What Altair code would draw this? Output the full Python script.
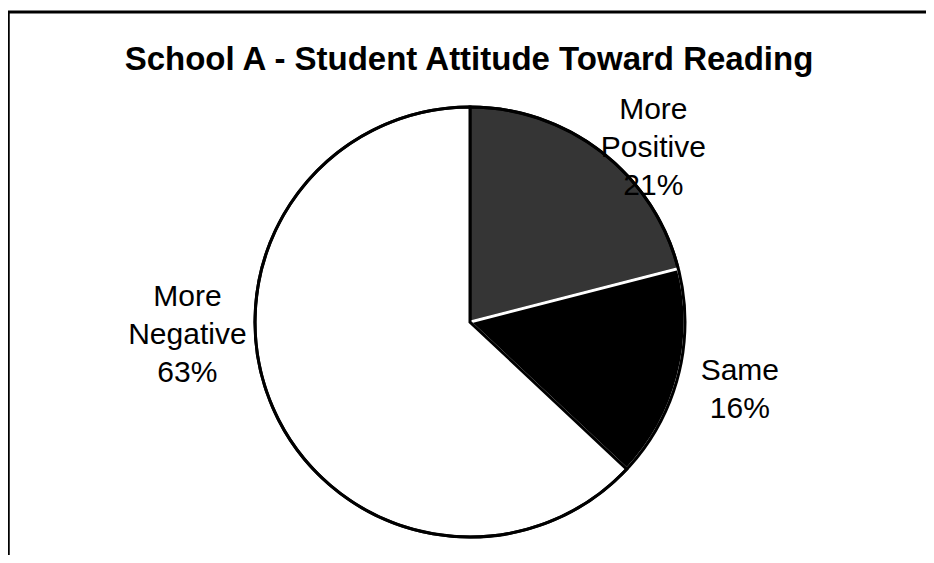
import math
import altair as alt
import pandas as pd

# ---- data ----
categories = ["More Positive", "Same", "More Negative"]
label_words = [["More", "Positive"], ["Same"], ["More", "Negative"]]
values = [21, 16, 63]
title_text = "School A - Student Attitude Toward Reading"

# ---- layout / style ----
W, H = 918, 547
CX, CY = 462, 314
R = 215
LABEL_R = 260
LINE_H = 38
label_nudge = [(24, 31), (18, 3), (-44, -90)]
colors = ["#353535", "#000000", "#ffffff"]
edge_colors = ["black", "white", "black"]
FONT = "Liberation Sans"

pie_df = pd.DataFrame({"category": categories, "value": values, "order": list(range(len(values)))})

# label positions from the slice mid-angles
total = sum(values)
rows = []
cum = 0
for cat, words, v, (ndx, ndy) in zip(categories, label_words, values, label_nudge):
    mid = (cum + v / 2) / total * 2 * math.pi
    cum += v
    lines = words + [f"{v}%"]
    rows.append({
        "category": cat,
        "lines": lines,
        "lx": CX + LABEL_R * math.sin(mid) + ndx,
        "ly": CY - LABEL_R * math.cos(mid) + ndy - (len(lines) - 1) / 2 * LINE_H,
    })
lab_df = pd.DataFrame(rows)

pie = alt.Chart(pie_df).mark_arc(outerRadius=R, strokeWidth=3).encode(
    theta=alt.Theta("value:Q", stack=True),
    color=alt.Color("category:N", scale=alt.Scale(domain=categories, range=colors), legend=None),
    stroke=alt.Stroke("category:N", scale=alt.Scale(domain=categories, range=edge_colors), legend=None),
    order=alt.Order("order:Q"),
    x=alt.value(CX),
    y=alt.value(CY),
)

outline = alt.Chart(pie_df).mark_arc(
    outerRadius=R, stroke="black", strokeWidth=3, fillOpacity=0
).encode(
    theta=alt.Theta("sum(value):Q", stack=True),
    x=alt.value(CX),
    y=alt.value(CY),
)

labels = alt.Chart(lab_df).mark_text(
    font=FONT, fontSize=30, color="black", align="center", baseline="middle", lineHeight=LINE_H
).encode(
    x=alt.X("lx:Q", scale=None, axis=None),
    y=alt.Y("ly:Q", scale=None, axis=None),
    text="lines",
)

title = alt.Chart(pd.DataFrame({"t": [title_text]})).mark_text(
    font=FONT, fontSize=33, fontWeight="bold", color="black", align="center", baseline="middle"
).encode(x=alt.value(461), y=alt.value(52), text="t:N")

top_rule = alt.Chart(pd.DataFrame({"a": [0]})).mark_rule(color="black", strokeWidth=3).encode(
    x=alt.value(0), x2=alt.value(W), y=alt.value(4)
)
left_rule = alt.Chart(pd.DataFrame({"a": [0]})).mark_rule(color="black", strokeWidth=2.5).encode(
    x=alt.value(0.5), y=alt.value(3), y2=alt.value(H)
)

chart = alt.layer(pie, outline, labels, title, top_rule, left_rule).properties(
    width=W, height=H, autosize="none", padding=0
).configure_view(stroke=None)

chart.save("out.html", embed_options={"renderer": "svg", "actions": False})
